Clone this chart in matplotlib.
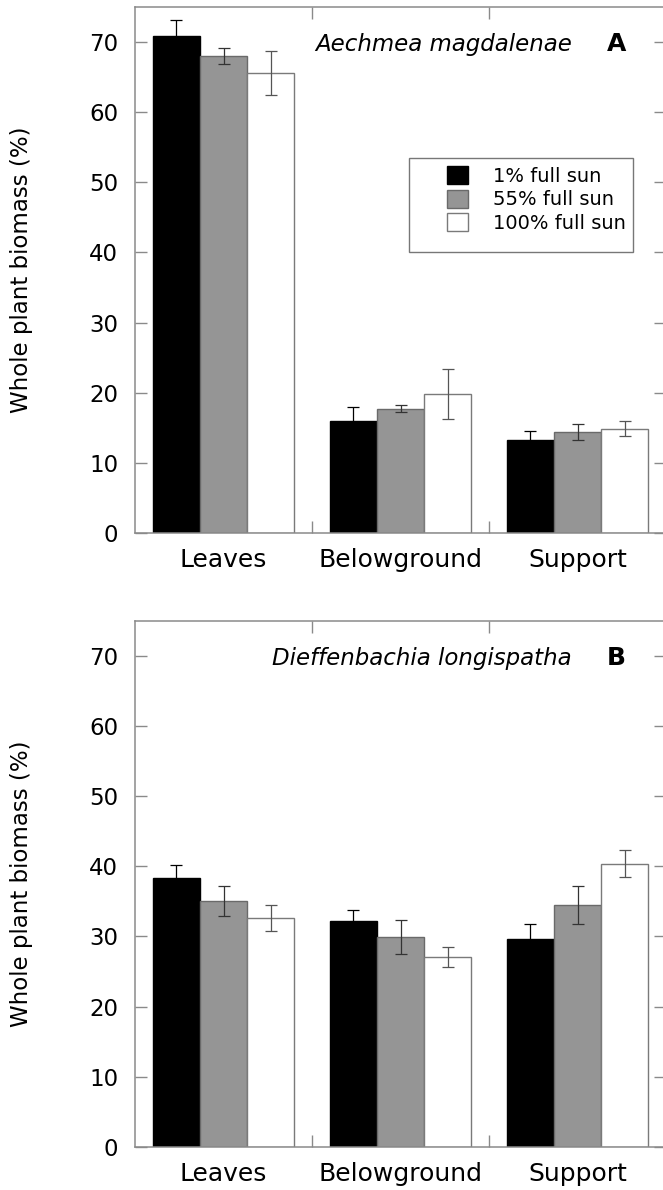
import numpy as np
import matplotlib
matplotlib.use("Agg")
import matplotlib.pyplot as plt
from matplotlib.patches import Rectangle

plt.rcParams['font.family'] = ['DejaVu Sans']

# data
categories = ["Leaves", "Belowground", "Support"]
treatments = ["1% full sun", "55% full sun", "100% full sun"]

# panel A - Aechmea magdalenae
a_means = [[70.8, 16.0, 13.2],
           [68.0, 17.7, 14.4],
           [65.6, 19.8, 14.9]]
a_err = [[2.4, 1.9, 1.4],
         [1.1, 0.5, 1.2],
         [3.1, 3.6, 1.05]]

# panel B - Dieffenbachia longispatha
b_means = [[38.3, 32.2, 29.7],
           [35.1, 29.9, 34.5],
           [32.6, 27.1, 40.4]]
b_err = [[1.9, 1.5, 2.1],
         [2.15, 2.45, 2.7],
         [1.85, 1.4, 1.9]]

yticks = [0, 10, 20, 30, 40, 50, 60, 70]

# styles
fills = ["black", "#959595", "white"]
edges = ["black", "#6a6a6a", "#7a7a7a"]
errcols = ["black", "#333333", "#555555"]
spine_col = "#8a8a8a"
width = 0.8 / 3

W, H = 663, 1190
fig = plt.figure(figsize=(W / 100, H / 100), dpi=100)

def px_axes(left, top, right, bottom):
    return fig.add_axes([left / W, 1 - bottom / H, (right - left) / W, (bottom - top) / H])

axA = px_axes(135, 7, 666, 533)
axB = px_axes(135, 621, 666, 1146.7)

def draw_panel(ax, means, errs, title, letter, legend=False):
    x = np.arange(len(categories))
    for i in range(3):
        pos = x + (i - 1) * width
        ax.bar(pos, means[i], width, color=fills[i], edgecolor=edges[i],
               linewidth=1.0, label=treatments[i], zorder=2)
        ax.errorbar(pos, means[i], yerr=errs[i], fmt='none', ecolor=errcols[i],
                    elinewidth=0.9, capsize=4, capthick=0.9, zorder=3)
    ax.set_xlim(-0.5, 2.5)
    ax.set_ylim(0, 75)
    ax.set_yticks(yticks)
    ax.set_xticks(x)
    ax.set_xticklabels(categories, fontsize=18)
    ax.set_xticks([0.5, 1.5], minor=True)
    ax.tick_params(axis='x', which='major', length=0, pad=11)
    ax.tick_params(axis='x', which='minor', direction='in', length=8.6,
                   width=1, color=spine_col, top=True, bottom=True)
    ax.tick_params(axis='y', direction='in', length=8.6, width=1, color=spine_col,
                   left=True, right=True, labelsize=16.5, pad=12)
    for s in ax.spines.values():
        s.set_color(spine_col)
        s.set_linewidth(1.1)
    ax.set_ylabel("Whole plant biomass (%)", fontsize=16.5)
    ax.yaxis.set_label_coords(-0.193, 0.5)
    ax.text(0.823, 0.916, title, transform=ax.transAxes, ha='right',
            va='baseline', fontsize=16.5, style='italic')
    ax.text(0.906, 0.916, letter, transform=ax.transAxes, ha='center',
            va='baseline', fontsize=18, fontweight='bold')
    if legend:
        ax.add_patch(Rectangle((0.516, 0.534), 0.422, 0.179, transform=ax.transAxes,
                               fill=False, edgecolor='#777777', linewidth=1.0, zorder=4))
        ax.legend(loc='upper left', bbox_to_anchor=(0.5876, 0.697), frameon=False,
                  fontsize=14, borderpad=0, borderaxespad=0, handlelength=1.08,
                  handleheight=1.03, handletextpad=1.3, labelspacing=0.2)

draw_panel(axA, a_means, a_err, "Aechmea magdalenae", "A", legend=True)
draw_panel(axB, b_means, b_err, "Dieffenbachia longispatha", "B")

fig.savefig("out.png", dpi=100)
